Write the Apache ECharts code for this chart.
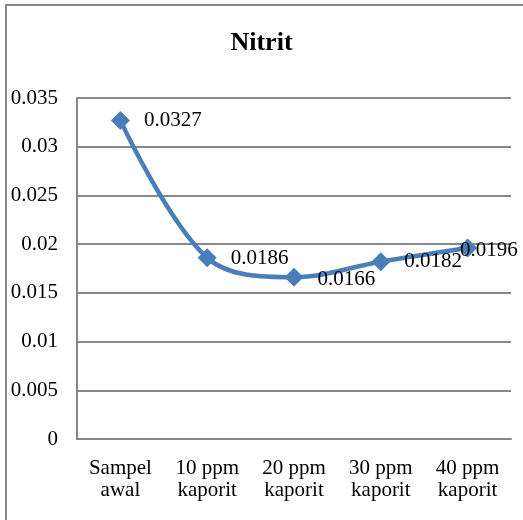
<!DOCTYPE html>
<html>
<head>
<meta charset="utf-8">
<script src="https://cdn.jsdelivr.net/npm/echarts@6/dist/echarts.min.js"></script>
<style>
  html, body { margin: 0; padding: 0; background: #fff; }
  #chart { width: 523px; height: 520px; }
</style>
</head>
<body>
<div id="chart"></div>
<script>
// Nitrite concentration after chlorine (kaporit) dosing
const categories = ['Sampel\nawal', '10 ppm\nkaporit', '20 ppm\nkaporit', '30 ppm\nkaporit', '40 ppm\nkaporit'];
const nitrit = [0.0327, 0.0186, 0.0166, 0.0182, 0.0196];
const yTicks = { min: 0, max: 0.035, interval: 0.005 };

const FONT = '"Liberation Serif", "Times New Roman", serif';
const GRAY = '#878787';

// per-point label nudges; the last label is pulled back inside the plot
const labelOffsets = [[0, 0], [0, 1], [0, 2], [0, 0], [-31, 2]];

const chart = echarts.init(document.getElementById('chart'), null, { renderer: 'canvas' });
chart.setOption({
  animation: false,
  backgroundColor: '#fff',
  title: {
    text: 'Nitrit',
    left: 'center',
    top: 25,
    textStyle: { fontFamily: FONT, fontSize: 26, fontWeight: 'bold', color: '#000' }
  },
  grid: { left: 77, right: 12, top: 98, bottom: 81 },
  xAxis: {
    type: 'category',
    data: categories,
    boundaryGap: true,
    axisLine: { lineStyle: { color: GRAY, width: 2 } },
    axisTick: { show: false },
    axisLabel: {
      fontFamily: FONT, fontSize: 21, color: '#000', margin: 18,
      lineHeight: 22, interval: 0
    }
  },
  yAxis: {
    type: 'value',
    min: yTicks.min, max: yTicks.max, interval: yTicks.interval,
    axisLine: { show: true, lineStyle: { color: GRAY, width: 2 } },
    axisTick: { show: false },
    splitLine: { lineStyle: { color: GRAY, width: 2 } },
    axisLabel: {
      fontFamily: FONT, fontSize: 21, color: '#000', margin: 19,
      formatter: v => String(Number(v.toFixed(3)))
    }
  },
  series: [{
    type: 'line',
    smooth: 0.35,
    data: nitrit.map((v, i) => ({
      value: v,
      label: { offset: labelOffsets[i] }
    })),
    symbol: 'diamond',
    symbolSize: 19,
    itemStyle: { color: '#4a7ebb' },
    lineStyle: { color: '#4a7ebb', width: 4.5 },
    label: {
      show: true,
      position: 'right',
      distance: 14,
      fontFamily: FONT, fontSize: 21, color: '#000',
      formatter: p => String(p.value)
    }
  }],
  graphic: [{
    type: 'rect',
    shape: { x: 6, y: 5, width: 700, height: 700 },
    style: { fill: 'none', stroke: GRAY, lineWidth: 2 },
    silent: true,
    z: 100
  }]
});
</script>
</body>
</html>
